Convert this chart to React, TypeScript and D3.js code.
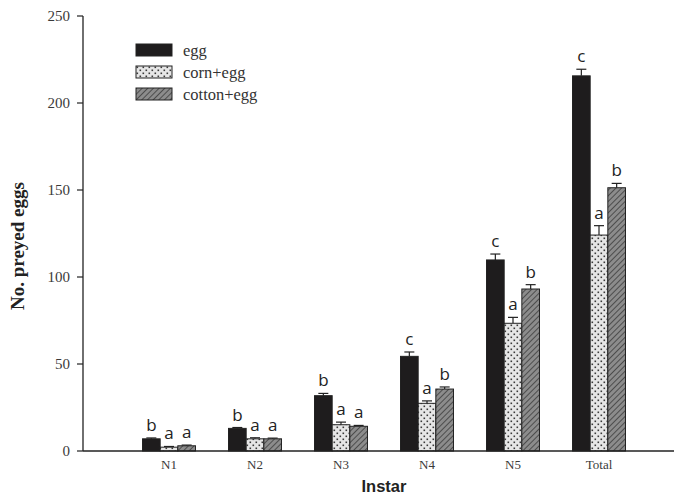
import React from "react";
import * as d3 from "d3";

const categories = ["N1", "N2", "N3", "N4", "N5", "Total"];
const seriesNames = ["egg", "corn+egg", "cotton+egg"];
const eggValues = [7, 13, 31.8, 54.4, 109.8, 215.6];
const eggErrors = [0.5, 0.5, 1.3, 2.5, 3.4, 3.8];
const cornValues = [2.2, 7, 15.1, 27.4, 73.4, 124.1];
const cornErrors = [0.4, 0.6, 1.5, 1.4, 3.4, 5.4];
const cottonValues = [3, 7, 14.2, 35.6, 93.1, 151.3];
const cottonErrors = [0.4, 0.4, 0.5, 1.2, 2.5, 2.5];
const eggLetters = ["b", "b", "b", "c", "c", "c"];
const cornLetters = ["a", "a", "a", "a", "a", "a"];
const cottonLetters = ["a", "a", "a", "b", "b", "b"];
const yTicks = [0, 50, 100, 150, 200, 250];

const W = 674;
const H = 503;

export default function App() {
  const y = d3.scaleLinear().domain([0, 250]).range([451, 16]);
  const x = d3
    .scaleBand<string>()
    .domain(categories)
    .range([126, 642])
    .paddingInner(0.384)
    .paddingOuter(0.192);
  const xs = d3
    .scaleBand<string>()
    .domain(seriesNames)
    .range([0, x.bandwidth()])
    .padding(0);

  const series = [
    { name: "egg", values: eggValues, errors: eggErrors, letters: eggLetters, fill: "#1e1c1d" },
    { name: "corn+egg", values: cornValues, errors: cornErrors, letters: cornLetters, fill: "url(#dots)" },
    { name: "cotton+egg", values: cottonValues, errors: cottonErrors, letters: cottonLetters, fill: "url(#hatch)" },
  ];

  const serif = "'Liberation Serif', 'Times New Roman', serif";
  const sans = "'Open Sans', 'Liberation Sans', sans-serif";

  return (
    <svg width={W} height={H} style={{ position: "absolute", left: 0, top: 0, background: "#fff" }}>
      <defs>
        <pattern id="dots" patternUnits="userSpaceOnUse" width="6" height="6">
          <rect width="6" height="6" fill="#e6e6e6" />
          <rect x="0.5" y="0.5" width="1.6" height="1.6" fill="#3a3a3a" />
          <rect x="3.5" y="3.5" width="1.6" height="1.6" fill="#3a3a3a" />
        </pattern>
        <pattern id="hatch" patternUnits="userSpaceOnUse" width="4" height="4" patternTransform="rotate(45)">
          <rect width="4" height="4" fill="#8c8c8c" />
          <line x1="0" y1="0" x2="0" y2="4" stroke="#3c3c3c" strokeWidth="1.6" />
        </pattern>
      </defs>

      {/* y axis */}
      <line x1={83} x2={83} y1={y(250)} y2={y(0)} stroke="#222" strokeWidth={1.3} />
      {yTicks.map((t) => (
        <g key={t}>
          <line x1={77} x2={83} y1={y(t)} y2={y(t)} stroke="#222" strokeWidth={1.2} />
          <text x={70} y={y(t)} dy="0.35em" textAnchor="end" fontFamily={serif} fontSize={15} fill="#3a3a3a">
            {t}
          </text>
        </g>
      ))}

      {/* bars */}
      {categories.map((c, i) => (
        <g key={c}>
          {series.map((s) => {
            const bx = (x(c) as number) + (xs(s.name) as number);
            const bw = xs.bandwidth();
            const top = y(s.values[i]);
            const errTop = y(s.values[i] + s.errors[i]);
            const cx = bx + bw / 2;
            return (
              <g key={s.name}>
                <line x1={cx} x2={cx} y1={top} y2={errTop} stroke="#222" strokeWidth={1.2} />
                <line x1={cx - 5} x2={cx + 5} y1={errTop} y2={errTop} stroke="#222" strokeWidth={1.2} />
                <rect x={bx} y={top} width={bw} height={y(0) - top} fill={s.fill} stroke="#222" strokeWidth={1} />
                <text x={cx} y={errTop - 7} textAnchor="middle" fontFamily={sans} fontSize={17} fill="#222">
                  {s.letters[i]}
                </text>
              </g>
            );
          })}
          <text
            x={(x(c) as number) + x.bandwidth() / 2}
            y={469}
            textAnchor="middle"
            fontFamily={serif}
            fontSize={13}
            fill="#3a3a3a"
          >
            {c}
          </text>
        </g>
      ))}

      {/* x axis */}
      <line x1={83} x2={674} y1={y(0)} y2={y(0)} stroke="#222" strokeWidth={1.3} />

      {/* legend */}
      {series.map((s, i) => (
        <g key={s.name} transform={`translate(136, ${44 + i * 22})`}>
          <rect x={0} y={0} width={36} height={12} fill={s.fill} stroke="#222" strokeWidth={1} />
          <text x={47} y={6} dy="0.35em" fontFamily={serif} fontSize={16.5} fill="#333">
            {s.name}
          </text>
        </g>
      ))}

      {/* axis titles */}
      <text
        transform={`translate(24, 246) rotate(-90)`}
        textAnchor="middle"
        fontFamily={serif}
        fontWeight="bold"
        fontSize={19}
        fill="#222"
      >
        No. preyed eggs
      </text>
      <text x={384} y={492} textAnchor="middle" fontFamily="'Liberation Sans', Arial, sans-serif" fontWeight="bold" fontSize={16.5} fill="#222">
        Instar
      </text>
    </svg>
  );
}
